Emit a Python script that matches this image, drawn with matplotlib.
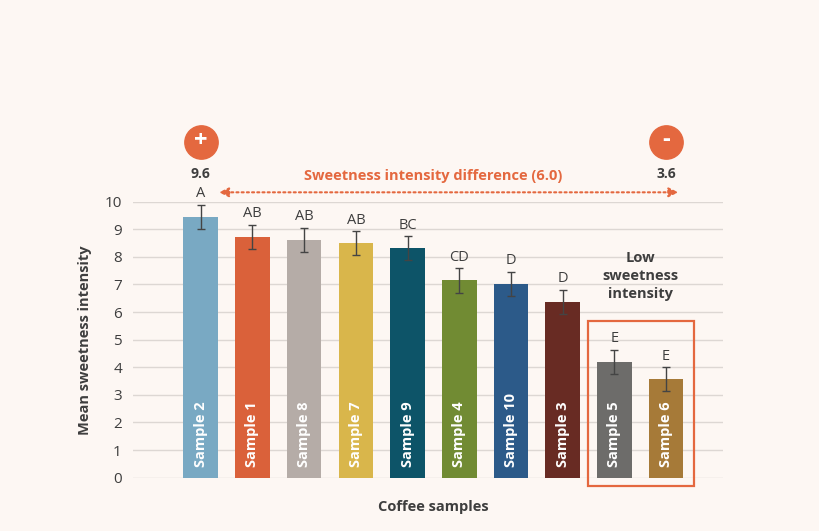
import matplotlib
matplotlib.use("Agg")
import matplotlib.pyplot as plt
from matplotlib.patches import Rectangle

samples = ["Sample 2", "Sample 1", "Sample 8", "Sample 7", "Sample 9",
           "Sample 4", "Sample 10", "Sample 3", "Sample 5", "Sample 6"]
means = [9.45, 8.73, 8.62, 8.50, 8.31, 7.15, 7.02, 6.37, 4.20, 3.57]
errors = [0.44, 0.44, 0.43, 0.43, 0.43, 0.44, 0.43, 0.43, 0.43, 0.43]
letters = ["A", "AB", "AB", "AB", "BC", "CD", "D", "D", "E", "E"]
colors = ["#79A9C3", "#DA613A", "#B5ACA7", "#D9B64B", "#0D5468",
          "#718B33", "#2C5A89", "#682B23", "#6D6C6A", "#A67A38"]
yticks = [0, 1, 2, 3, 4, 5, 6, 7, 8, 9, 10]
max_label, min_label = "9.6", "3.6"
diff_label = "Sweetness intensity difference (6.0)"

BG = "#FDF7F3"
ORANGE = "#E4683F"
DARK = "#3E3E3E"
FONT = "Open Sans"

plt.rcParams["font.family"] = [FONT, "DejaVu Sans"]

fig = plt.figure(figsize=(8.2, 5.31), dpi=100, facecolor=BG)
ax = fig.add_axes([133/820, 1-477.7/531, (723-133)/820, (477.7-201.7)/531])
ax.set_facecolor(BG)

x = list(range(len(samples)))
ax.bar(x, means, width=0.67, color=colors, zorder=2)
ax.errorbar(x, means, yerr=errors, fmt="none", ecolor="#444444",
            elinewidth=1.0, capsize=3, capthick=1.0, zorder=3)

for xi, m, e, lab, s in zip(x, means, errors, letters, samples):
    ax.text(xi, m + e + 0.13, lab, ha="center", va="bottom",
            fontsize=10.5, color=DARK, zorder=4)
    ax.text(xi, 0.38, s, rotation=90, ha="center", va="bottom",
            fontsize=10.5, fontweight="bold", color="white", zorder=4)

ax.set_xlim(-1.31, 10.1)
ax.set_ylim(0, 10)
ax.set_yticks(yticks)
ax.set_yticklabels([str(t) for t in yticks], fontsize=11, color=DARK)
ax.set_xticks([])
ax.tick_params(axis="y", length=0, pad=8)
ax.grid(axis="y", color="#DDD7D3", linewidth=1.0, zorder=0)
ax.set_axisbelow(True)
for sp in ax.spines.values():
    sp.set_visible(False)

ax.set_ylabel("Mean sweetness intensity", fontsize=10.5, fontweight="bold",
              color=DARK, labelpad=9)
fig.text(433/820, 1-507/531, "Coffee samples", ha="center", va="center",
         fontsize=10.5, fontweight="bold", color=DARK)

# top annotations
first, last = x[0], x[-1]
ax.plot([first, last], [12.16, 12.16], "o", markersize=24, color=ORANGE,
        clip_on=False, zorder=5)
ax.text(first, 12.2, "+", ha="center", va="center", fontsize=17,
        fontweight="bold", color="white", zorder=6)
ax.text(last, 12.22, "-", ha="center", va="center", fontsize=17,
        fontweight="bold", color="white", zorder=6)
ax.text(first, 11.02, max_label, ha="center", va="center", fontsize=10,
        fontweight="bold", color=DARK)
ax.text(last, 11.02, min_label, ha="center", va="center", fontsize=10,
        fontweight="bold", color=DARK)
ax.annotate("", xy=(0.30, 10.34), xytext=(9.29, 10.34),
            arrowprops=dict(arrowstyle="<|-|>", color=ORANGE, lw=1.5,
                            linestyle=(0, (1, 1.5)), mutation_scale=14),
            annotation_clip=False)
ax.text(4.5, 10.93, diff_label, ha="center", va="center", fontsize=10.5,
        fontweight="bold", color=ORANGE)

ax.text(8.51, 7.31, "Low\nsweetness\nintensity", ha="center", va="center",
        fontsize=10.5, fontweight="bold", color=DARK, linespacing=1.35)
ax.add_patch(Rectangle((7.49, -0.3), 9.53 - 7.49, 5.68 + 0.3, fill=False,
                       edgecolor=ORANGE, linewidth=1.6, clip_on=False, zorder=5))

fig.savefig("out.png", dpi=100, facecolor=BG)
